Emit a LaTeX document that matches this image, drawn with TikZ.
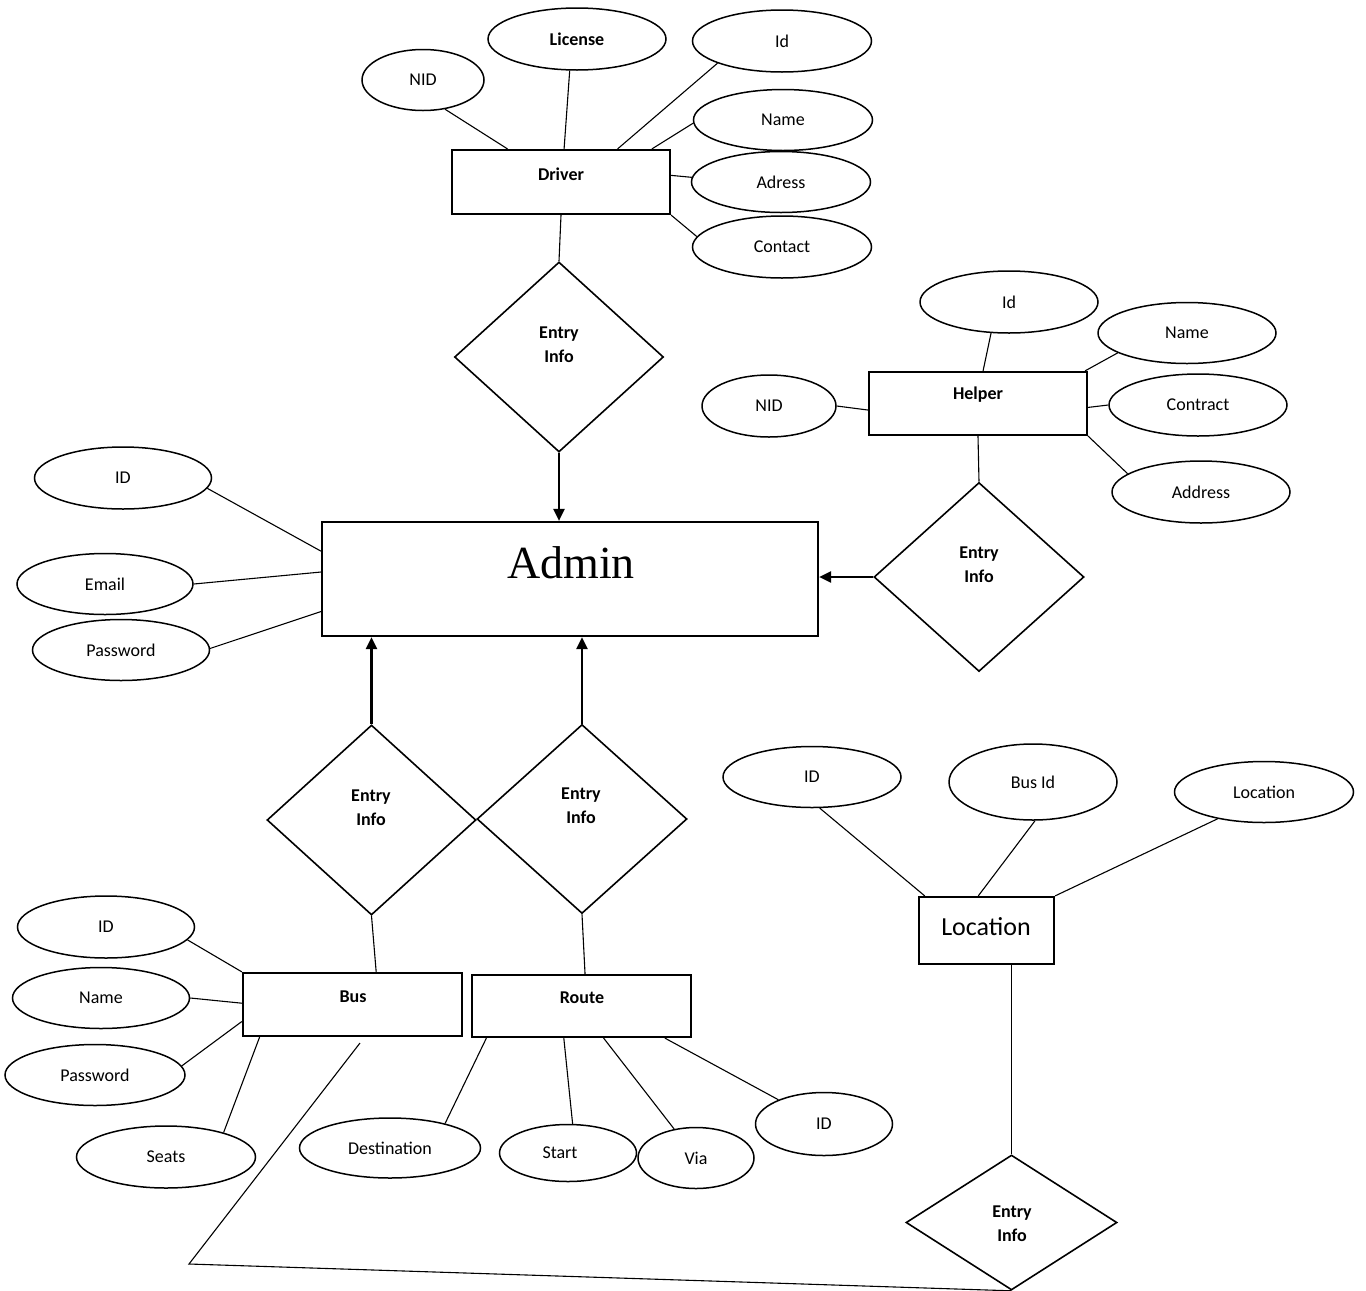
\documentclass[tikz,border=0pt]{standalone}
\usepackage{fontspec}
\setmainfont{Carlito}
\newfontfamily\adminfont{Liberation Serif}
\usetikzlibrary{shapes.geometric,arrows.meta,calc}
\begin{document}
\begin{tikzpicture}[x=1pt,y=-1pt,
 attr/.style={ellipse,draw,line width=1.5pt,inner sep=0pt,font=\fontsize{18}{20}\selectfont},
 ent/.style={rectangle,draw,line width=2.2pt,inner sep=0pt},
 rel/.style={diamond,draw,line width=1.6pt,inner sep=0pt},
 conn/.style={line width=1.1pt},
 arr/.style={line width=2.2pt,-{Triangle[length=12pt,width=11pt]}},
 lbl/.style={font=\bfseries\fontsize{18}{24}\selectfont,align=center,inner sep=0pt}]
\useasboundingbox (0,0) rectangle (1366,1291);

% ---------- Driver ----------
\node[ent,minimum width=218pt,minimum height=64pt] (driver) at (561,182) {};
\node[lbl] (drivert) at (561,174) {Driver};
\node[attr,minimum width=122pt,minimum height=61pt] (nid1) at (423,80) {NID};
\node[attr,minimum width=178pt,minimum height=62pt,font=\bfseries\fontsize{18}{20}\selectfont] (lic) at (577,39) {License};
\node[attr,minimum width=179pt,minimum height=62pt] (id1) at (782,41) {Id};
\node[attr,minimum width=179pt,minimum height=61pt] (name1) at (783,120) {Name};
\node[attr,minimum width=179pt,minimum height=61pt] (adr1) at (781,182) {Adress};
\node[attr,minimum width=179pt,minimum height=62pt] (con1) at (782,247) {Contact};
\node[rel,minimum width=209pt,minimum height=190pt] (d1) at (559,357) {};
\node[lbl] (d1t) at (559,345) {Entry\\Info};

% ---------- Admin ----------
\node[ent,minimum width=496pt,minimum height=114pt] (admin) at (570,579) {};
\node[font=\adminfont\fontsize{46}{50}\selectfont,inner sep=0pt] (admint) at (571,563) {Admin};
\node[attr,minimum width=177pt,minimum height=62pt] (aid) at (123,478) {ID};
\node[attr,minimum width=176pt,minimum height=61pt] (aem) at (105,584) {Email};
\node[attr,minimum width=177pt,minimum height=61pt] (apw) at (121,650) {Password};

% ---------- Helper ----------
\node[ent,minimum width=218pt,minimum height=63pt] (helper) at (978,403.5) {};
\node[lbl] (helpert) at (978,395) {Helper};
\node[attr,minimum width=178pt,minimum height=62pt] (hid) at (1009,302) {Id};
\node[attr,minimum width=178pt,minimum height=61pt] (hname) at (1187,333) {Name};
\node[attr,minimum width=134pt,minimum height=62pt] (hnid) at (769,406) {NID};
\node[attr,minimum width=178pt,minimum height=62pt] (hcon) at (1198,405) {Contract};
\node[attr,minimum width=178pt,minimum height=62pt] (hadr) at (1201,492) {Address};
\node[rel,minimum width=210pt,minimum height=189pt] (hd) at (979,577) {};
\node[lbl] (hdt) at (979,565) {Entry\\Info};

% ---------- Bus / Route relations ----------
\node[rel,minimum width=209pt,minimum height=190pt] (bd) at (371.5,820) {};
\node[lbl] (bdt) at (371,808) {Entry\\Info};
\node[rel,minimum width=210pt,minimum height=189pt] (rd) at (582,819) {};
\node[lbl] (rdt) at (581,806) {Entry\\Info};

% ---------- Bus ----------
\node[ent,minimum width=219pt,minimum height=63pt] (bus) at (352.5,1004.5) {};
\node[lbl] (bust) at (353,997) {Bus};
\node[attr,minimum width=177pt,minimum height=62pt] (bid) at (106,927) {ID};
\node[attr,minimum width=177pt,minimum height=61pt] (bname) at (101,998) {Name};
\node[attr,minimum width=180pt,minimum height=61pt] (bpw) at (95,1075) {Password};
\node[attr,minimum width=179pt,minimum height=62pt] (bseats) at (166,1157) {Seats};

% ---------- Route ----------
\node[ent,minimum width=219pt,minimum height=62pt] (route) at (581.5,1006) {};
\node[lbl] (routet) at (582,998) {Route};
\node[attr,minimum width=181pt,minimum height=60pt] (rdest) at (390,1148) {Destination};
\node[attr,minimum width=137pt,minimum height=57pt] (rstart) at (568,1153) {Start\hspace*{16pt}};
\node[attr,minimum width=116pt,minimum height=61pt] (rvia) at (696,1158) {Via};
\node[attr,minimum width=137pt,minimum height=63pt] (rid) at (824,1124) {ID};

% ---------- Location ----------
\node[ent,minimum width=135pt,minimum height=67pt] (loc) at (986.5,930.5) {};
\node[font=\fontsize{26}{30}\selectfont,inner sep=0pt] (loct) at (986,927) {Location};
\node[attr,minimum width=178pt,minimum height=61pt] (lid) at (812,777) {ID};
\node[attr,minimum width=168pt,minimum height=76pt] (lbus) at (1033,782) {Bus Id};
\node[attr,minimum width=179pt,minimum height=61pt] (lloc) at (1264,792) {Location};
\node[rel,minimum width=211pt,minimum height=135pt] (ld) at (1011.5,1222.5) {};
\node[lbl] (ldt) at (1012,1224) {Entry\\Info};

% ---------- connectors: Driver ----------
\draw[conn] (nid1.-53) -- ($(driver.north west)!0.257!(driver.north east)$);
\draw[conn] (lic.-103) -- ($(driver.north west)!0.514!(driver.north east)$);
\draw[conn] (id1.-161) -- ($(driver.north west)!0.757!(driver.north east)$);
\draw[conn] (name1.-178) -- ($(driver.north west)!0.913!(driver.north east)$);
\draw[conn] (adr1.177) -- ($(driver.north east)!0.4!(driver.south east)$);
\draw[conn] (con1.173) -- (driver.south east);
\draw[conn] (driver.south) -- (d1.north);
\draw[arr] (d1.south) -- (d1.south |- admin.north);

% ---------- connectors: Admin ----------
\draw[conn] (aid.-7) -- ($(admin.north west)!0.26!(admin.south west)$);
\draw[conn] (aem.east) -- ($(admin.north west)!0.44!(admin.south west)$);
\draw[conn] (apw.1) -- ($(admin.north west)!0.78!(admin.south west)$);
\draw[arr] (bd.north) -- (bd.north |- admin.south);
\draw[arr] (rd.north) -- (rd.north |- admin.south);
\draw[conn] (bd.south) -- ($(bus.north west)!0.607!(bus.north east)$);
\draw[conn] (rd.south) -- ($(route.north west)!0.516!(route.north east)$);

% ---------- connectors: Bus ----------
\draw[conn] (bid.-9) -- (bus.north west);
\draw[conn] (bname.east) -- ($(bus.north west)!0.48!(bus.south west)$);
\draw[conn] (bpw.6) -- ($(bus.north west)!0.76!(bus.south west)$);
\draw[conn] (bseats.23) -- ($(bus.south west)!0.08!(bus.south east)$);
\coordinate (busend) at (360,1043);
\coordinate (corner) at (189,1264);
\draw[conn] (busend) -- (corner) -- (ld.south);

% ---------- connectors: Route ----------
\draw[conn] (rdest.24) -- ($(route.south west)!0.07!(route.south east)$);
\draw[conn] (rstart.81) -- ($(route.south west)!0.42!(route.south east)$);
\draw[conn] (rvia.127) -- ($(route.south west)!0.6!(route.south east)$);
\draw[conn] (rid.152) -- ($(route.south west)!0.877!(route.south east)$);

% ---------- connectors: Helper ----------
\draw[conn] (hid.-120) -- ($(helper.north west)!0.523!(helper.north east)$);
\draw[conn] (hname.-164) -- ($(helper.north west)!0.986!(helper.north east)$);
\draw[conn] (hnid.east) -- ($(helper.north west)!0.6!(helper.south west)$);
\draw[conn] (hcon.west) -- ($(helper.north east)!0.56!(helper.south east)$);
\draw[conn] (hadr.166) -- (helper.south east);
\draw[conn] (helper.south) -- (hd.north);
\draw[arr] (hd.west) -- (hd.west -| admin.east);

% ---------- connectors: Location ----------
\draw[conn] (lid.-76) -- ($(loc.north west)!0.05!(loc.north east)$);
\draw[conn] (lbus.-87) -- ($(loc.north west)!0.44!(loc.north east)$);
\draw[conn] (lloc.-150) -- (loc.north east);
\draw[conn] (ld.north |- loc.south) -- (ld.north);
\end{tikzpicture}
\end{document}
